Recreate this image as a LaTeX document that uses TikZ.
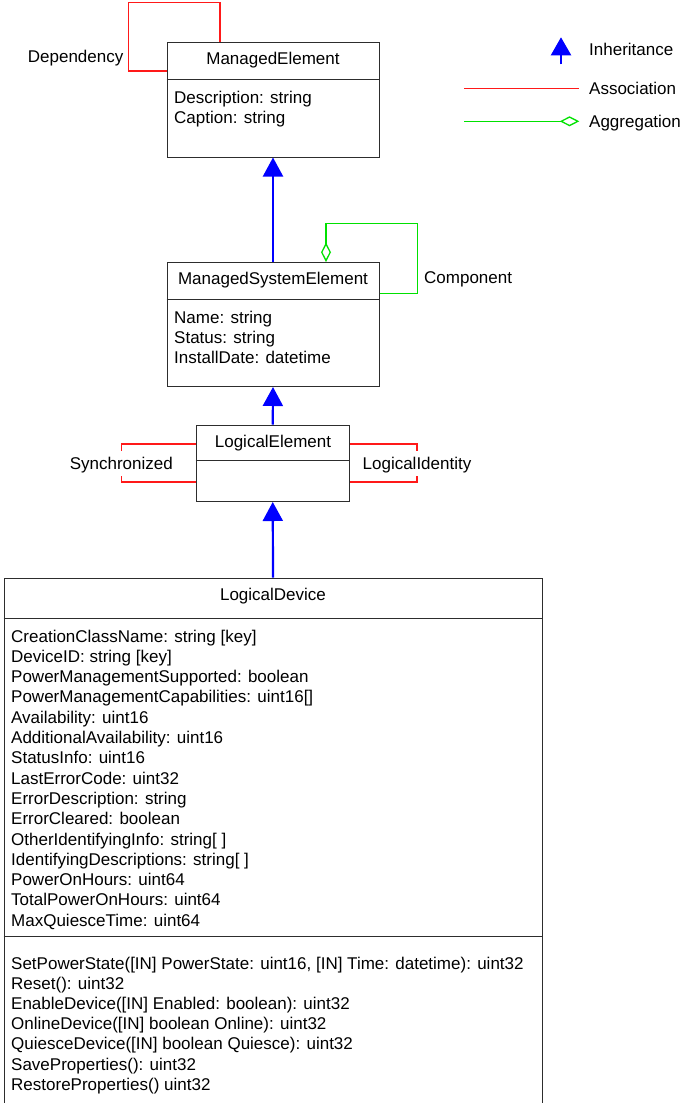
\documentclass[tikz,border=0pt]{standalone}
\usepackage{fontspec}
\setmainfont{Liberation Sans}
\usetikzlibrary{arrows.meta}
\definecolor{assocred}{RGB}{255,25,25}
\definecolor{aggrgreen}{RGB}{0,225,0}
\definecolor{inhblue}{RGB}{0,0,255}
\definecolor{boxline}{RGB}{45,45,45}
\begin{document}
\begin{tikzpicture}[x=1pt,y=-1pt,
  font=\fontsize{17pt}{20.3pt}\selectfont,
  umlbox/.style={draw=boxline, line width=1pt, inner sep=0pt},
  txt/.style={inner sep=0pt, anchor=base west},
  ttl/.style={inner sep=0pt, anchor=base},
  lbl/.style={inner sep=0pt, text height=12.3pt, text depth=0pt, minimum height=25pt},
  divider/.style={draw=boxline, line width=1pt},
  assoc/.style={draw=assocred, line width=1.6pt},
  aggr/.style={draw=aggrgreen, line width=1.5pt},
  aggrtip/.style={draw=aggrgreen, line width=1.3pt, -{Diamond[open,length=19.5pt,width=10pt]}},
  inh/.style={draw=inhblue, line width=2.2pt, -{Triangle[length=19pt,width=20pt]}}]
\useasboundingbox (0,0) rectangle (681,1103);
\clip (0,0) rectangle (681,1103);

% ---------- boxes ----------
\node[umlbox, minimum width=212pt, minimum height=115pt] (me) at (273,99.5) {};
\draw[divider] ([yshift=-38pt]me.north west) -- ([yshift=-38pt]me.north east);
\node[ttl] (metitle) at (273,64) {ManagedElement};
\node[txt] (mea1) at (174,103) {Description: string};
\node[txt] (mea2) at (174,123) {Caption: string};

\node[umlbox, minimum width=212pt, minimum height=124pt] (mse) at (273,324.5) {};
\draw[divider] ([yshift=-37.5pt]mse.north west) -- ([yshift=-37.5pt]mse.north east);
\node[ttl] (msetitle) at (273,284) {ManagedSystemElement};
\node[txt] (msea1) at (174,323) {Name: string};
\node[txt] (msea2) at (174,343.3) {Status: string};
\node[txt] (msea3) at (174,363.6) {InstallDate: datetime};

\node[umlbox, minimum width=153.5pt, minimum height=76.5pt] (le) at (272.75,463.25) {};
\draw[divider] ([yshift=-36pt]le.north west) -- ([yshift=-36pt]le.north east);
\node[ttl] (letitle) at (273,447) {LogicalElement};

\node[umlbox, minimum width=538pt, minimum height=532pt] (ld) at (273,844) {};
\draw[divider] ([yshift=-41pt]ld.north west) -- ([yshift=-41pt]ld.north east);
\draw[divider] ([yshift=-359pt]ld.north west) -- ([yshift=-359pt]ld.north east);
\node[ttl] (ldtitle) at (273,600) {LogicalDevice};
\foreach \t [count=\i from 0] in {%
  CreationClassName: string [key],
  DeviceID: string [key],
  PowerManagementSupported: boolean,
  PowerManagementCapabilities: uint16[],
  Availability: uint16,
  AdditionalAvailability: uint16,
  StatusInfo: uint16,
  LastErrorCode: uint32,
  ErrorDescription: string,
  ErrorCleared: boolean,
  OtherIdentifyingInfo: string[ ],
  IdentifyingDescriptions: string[ ],
  PowerOnHours: uint64,
  TotalPowerOnHours: uint64,
  MaxQuiesceTime: uint64}
  \node[txt] (ldattr\i) at (11,642+20.3*\i) {\t};
\foreach \t [count=\i from 0] in {%
  {SetPowerState([IN] PowerState: uint16, [IN] Time: datetime): uint32},
  {Reset(): uint32},
  {EnableDevice([IN] Enabled: boolean): uint32},
  {OnlineDevice([IN] boolean Online): uint32},
  {QuiesceDevice([IN] boolean Quiesce): uint32},
  {SaveProperties(): uint32},
  {RestoreProperties() uint32}}
  \node[txt] (ldmeth\i) at (11,969+20.2*\i) {\t};

% ---------- inheritance ----------
\draw[inh] (mse.north) -- (me.south);
\draw[inh] (le.north) -- (mse.south);
\draw[inh] (ld.north) -- (le.south);

% ---------- Dependency (self association) ----------
\node[txt] (deplbl) at (27.7,62) {Dependency};
\draw[assoc] ([yshift=28.5pt]me.west) -- ++(-38,0) |- ([xshift=-53pt,yshift=39pt]me.north) -- ([xshift=-53pt]me.north);

% ---------- Component (self aggregation) ----------
\node[txt] (complbl) at (424,283.3) {Component};
\coordinate (compd) at ([xshift=53pt,yshift=19.5pt]mse.north);
\draw[aggr] ([yshift=31.2pt]mse.east) -- ++(38,0) |- ([xshift=53pt,yshift=38.5pt]mse.north) -- (compd);
\draw[aggrtip] ([yshift=0.5pt]compd) -- ([xshift=53pt]mse.north);

% ---------- Synchronized / LogicalIdentity ----------
\node[lbl] (synclbl) at (121.3,463.2) {Synchronized};
\draw[assoc] ([yshift=19.25pt]le.west) -| (synclbl.north);
\draw[assoc] ([yshift=-19pt]le.west) -| (synclbl.south);
\node[lbl] (lidlbl) at (417,463.2) {LogicalIdentity};
\draw[assoc] ([yshift=19.25pt]le.east) -| (lidlbl.north);
\draw[assoc] ([yshift=-19pt]le.east) -| (lidlbl.south);

% ---------- legend ----------
\coordinate (lgi1) at (561,64.3);
\coordinate (lgi2) at (561,37.3);
\draw[inh, -{Triangle[length=18pt,width=20pt]}] (lgi1) -- (lgi2);
\node[txt] (lgitxt) at (589,55) {Inheritance};
\coordinate (lga1) at (464,88.3);
\coordinate (lga2) at (579.3,88.3);
\draw[assoc, line width=1.2pt] (lga1) -- (lga2);
\node[txt] (lgatxt) at (589,94) {Association};
\coordinate (lgg1) at (464,121.3);
\coordinate (lggm) at (560.3,121.3);
\coordinate (lgg2) at (579.3,121.3);
\draw[aggr] (lgg1) -- (lggm);
\draw[aggrtip] ([xshift=-0.5pt]lggm) -- (lgg2);
\node[txt] (lggtxt) at (589,127) {Aggregation};
\end{tikzpicture}
\end{document}
